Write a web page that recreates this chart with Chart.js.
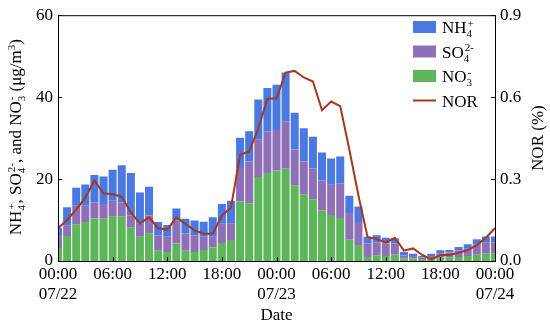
<!DOCTYPE html>
<html>
<head>
<meta charset="utf-8">
<script src="https://cdn.jsdelivr.net/npm/chart.js@4/dist/chart.umd.min.js"></script>
<style>
  html, body { margin: 0; padding: 0; background: #fff; }
  #wrap { width: 550px; height: 325px; }
</style>
</head>
<body>
<div id="wrap"><canvas id="ionChart"></canvas></div>
<script>
// hourly samples, 07/22 00:00 -> 07/24 00:00
const hours = [
  '00:00','01:00','02:00','03:00','04:00','05:00','06:00','07:00','08:00','09:00','10:00','11:00',
  '12:00','13:00','14:00','15:00','16:00','17:00','18:00','19:00','20:00','21:00','22:00','23:00',
  '00:00','01:00','02:00','03:00','04:00','05:00','06:00','07:00','08:00','09:00','10:00','11:00',
  '12:00','13:00','14:00','15:00','16:00','17:00','18:00','19:00','20:00','21:00','22:00','23:00',
  '00:00'
];
const dates = ['07/22', '07/23', '07/24'];

// concentrations (ug/m3), stacked bottom -> top
const no3 = [3.2,6.1,9.0,9.5,10.4,10.3,10.8,10.8,8.1,5.9,6.8,2.5,2.2,4.3,2.5,2.2,2.7,3.3,4.4,5.1,
  14.5,14.1,20.5,21.5,22.1,22.5,18.5,16.3,15.1,12.3,11.2,10.5,5.2,3.9,1.0,1.4,1.2,1.6,0.6,0.6,
  0.5,0.6,0.8,0.9,1.0,1.2,1.5,1.8,1.8];
const so4 = [2.7,2.6,4.5,4.0,3.9,3.6,3.9,3.5,3.0,3.2,4.3,3.8,3.7,5.6,4.2,4.1,3.2,2.6,4.7,4.0,
  8.2,10.2,9.1,10.1,9.9,11.6,8.7,8.0,7.5,7.4,7.4,8.4,6.5,5.6,3.3,3.2,3.1,2.7,0.8,0.6,
  0.4,0.6,1.1,1.2,1.6,1.8,2.6,2.8,2.8];
const nh4 = [2.2,4.4,4.4,5.2,6.7,6.7,7.6,9.1,10.4,7.6,7.0,3.2,2.9,2.9,3.6,3.6,3.7,4.8,4.8,5.6,
  7.4,7.4,9.8,10.6,11.0,11.9,9.0,8.1,7.7,6.8,6.4,6.6,4.2,3.8,1.6,1.7,1.4,1.2,0.8,0.6,
  0.3,0.6,0.7,0.6,0.8,1.1,1.2,1.4,1.4];
// nitrogen oxidation ratio (right axis)
const nor = [0.120,0.150,0.188,0.232,0.295,0.247,0.245,0.235,0.178,0.138,0.160,0.120,0.115,0.160,0.136,0.112,0.100,0.100,0.166,0.196,
  0.389,0.401,0.485,0.594,0.596,0.690,0.696,0.672,0.657,0.552,0.584,0.567,0.408,0.240,0.088,0.080,0.068,0.085,0.038,0.046,
  0.022,0.006,0.022,0.022,0.030,0.040,0.058,0.085,0.120];

const leftTicks = [0, 20, 40, 60];
const rightTicks = [0, 0.3, 0.6, 0.9];

const FONT = "'Liberation Serif', 'Times New Roman', serif";
const FS = 17;

// text with sub/superscripts: {t} normal, {b} subscript, {p} superscript
function richWidth(ctx, parts, size) {
  let w = 0;
  parts.forEach(p => {
    if (p.t) { ctx.font = size + 'px ' + FONT; w += ctx.measureText(p.t).width; }
    else {
      ctx.font = Math.round(size * 0.62) + 'px ' + FONT;
      w += Math.max(p.b ? ctx.measureText(p.b).width : 0, p.p ? ctx.measureText(p.p).width : 0);
    }
  });
  return w;
}
function drawRich(ctx, parts, x, y, size) {
  parts.forEach(p => {
    if (p.t) {
      ctx.font = size + 'px ' + FONT;
      ctx.fillText(p.t, x, y);
      x += ctx.measureText(p.t).width;
    } else {
      ctx.font = Math.round(size * 0.62) + 'px ' + FONT;
      let w = 0;
      if (p.b) { ctx.fillText(p.b, x, y + size * 0.25); w = ctx.measureText(p.b).width; }
      if (p.p) { ctx.fillText(p.p, x + (p.b ? 1 : 0), y - size * 0.38); w = Math.max(w, ctx.measureText(p.p).width + (p.b ? 1 : 0)); }
      x += w;
    }
  });
}

const yTitle = [{t:'NH'},{b:'4',p:'+'},{t:', SO'},{b:'4',p:'2-'},{t:', and NO'},{b:'3',p:'-'},{t:' (\u03bcg/m'},{p:'3'},{t:')'}];
const legendItems = [
  {parts:[{t:'NH'},{b:'4',p:'+'}], ds: 2},
  {parts:[{t:'SO'},{b:'4',p:'2-'}], ds: 1},
  {parts:[{t:'NO'},{b:'3',p:'-'}], ds: 0},
  {parts:[{t:'NOR'}], ds: 3}
];

const framePlugin = {
  id: 'frame',
  afterDraw(chart) {
    const ctx = chart.ctx;
    const a = chart.chartArea;
    const sx = chart.scales.x, sy = chart.scales.y, sr = chart.scales.y1;
    ctx.save();
    ctx.strokeStyle = '#000';
    ctx.lineWidth = 1;
    ctx.strokeRect(a.left + 0.5, a.top + 0.5, a.right - a.left, a.bottom - a.top);
    // inward tick marks
    ctx.beginPath();
    leftTicks.forEach(v => { const y = Math.round(sy.getPixelForValue(v)) + 0.5; ctx.moveTo(a.left, y); ctx.lineTo(a.left + 4, y); });
    rightTicks.forEach(v => { const y = Math.round(sr.getPixelForValue(v)) + 0.5; ctx.moveTo(a.right, y); ctx.lineTo(a.right - 4, y); });
    hours.forEach((h, i) => {
      if (i % 6 !== 0) return;
      const x = Math.round(sx.getPixelForValue(i)) + 0.5;
      ctx.moveTo(x, a.bottom); ctx.lineTo(x, a.bottom - 4);
    });
    ctx.stroke();

    ctx.fillStyle = '#000';
    ctx.textBaseline = 'alphabetic';
    // x title
    ctx.font = FS + 'px ' + FONT;
    ctx.textAlign = 'center';
    ctx.fillText('Date', (a.left + a.right) / 2, 320);
    // right title
    ctx.save();
    ctx.translate(543, (a.top + a.bottom) / 2);
    ctx.rotate(-Math.PI / 2);
    ctx.fillText('NOR (%)', 0, 0);
    ctx.restore();
    // left title
    ctx.textAlign = 'left';
    ctx.save();
    const tw = richWidth(ctx, yTitle, FS);
    ctx.translate(21, (a.top + a.bottom) / 2);
    ctx.rotate(-Math.PI / 2);
    drawRich(ctx, yTitle, -tw / 2, 0, FS);
    ctx.restore();

    // legend
    legendItems.forEach((it, k) => {
      const ds = chart.data.datasets[it.ds];
      const cy = 27 + k * 24.5;
      if (ds.type === 'line') {
        ctx.strokeStyle = ds.borderColor;
        ctx.lineWidth = 2;
        ctx.beginPath();
        ctx.moveTo(413, cy); ctx.lineTo(436, cy);
        ctx.stroke();
      } else {
        ctx.fillStyle = ds.backgroundColor;
        ctx.fillRect(413, cy - 6, 23, 12);
      }
      ctx.fillStyle = '#000';
      drawRich(ctx, it.parts, 442, cy + 6, FS);
    });
    ctx.restore();
  }
};

const ctx = document.getElementById('ionChart');
new Chart(ctx, {
  data: {
    labels: hours,
    datasets: [
      { type: 'bar', label: 'NO3-', data: no3, backgroundColor: '#5db65a', yAxisID: 'y', stack: 'ions', order: 2 },
      { type: 'bar', label: 'SO42-', data: so4, backgroundColor: '#8f70b7', yAxisID: 'y', stack: 'ions', order: 2 },
      { type: 'bar', label: 'NH4+', data: nh4, backgroundColor: '#4a79e2', yAxisID: 'y', stack: 'ions', order: 2 },
      { type: 'line', label: 'NOR', data: nor, borderColor: '#a3381e', borderWidth: 2, pointRadius: 0,
        tension: 0, yAxisID: 'y1', order: 1 }
    ]
  },
  options: {
    responsive: true,
    maintainAspectRatio: false,
    animation: false,
    layout: { padding: { top: 12, left: 0, right: 0, bottom: 0 } },
    datasets: { bar: { barPercentage: 0.88, categoryPercentage: 1 } },
    plugins: { legend: { display: false }, tooltip: { enabled: false } },
    scales: {
      x: {
        stacked: true,
        offset: false,
        grid: { display: false, drawTicks: false },
        border: { display: false },
        afterFit: s => { s.height = 64; },
        ticks: {
          autoSkip: false, maxRotation: 0, padding: 3,
          color: '#000', font: { family: FONT, size: FS }, lineHeight: 1.15,
          callback: (v, i) => {
            if (i % 6 !== 0) return null;
            if (i % 24 === 0) return [hours[i], dates[i / 24]];
            return hours[i];
          }
        }
      },
      y: {
        stacked: true,
        position: 'left',
        min: 0, max: 60,
        afterFit: s => { s.width = 58; },
        grid: { display: false, drawTicks: false },
        border: { display: false },
        afterBuildTicks: s => { s.ticks = leftTicks.map(v => ({ value: v })); },
        ticks: { padding: 5, color: '#000', font: { family: FONT, size: FS } }
      },
      y1: {
        position: 'right',
        min: 0, max: 0.9,
        afterFit: s => { s.width = 55; },
        grid: { display: false, drawTicks: false },
        border: { display: false },
        afterBuildTicks: s => { s.ticks = rightTicks.map(v => ({ value: v })); },
        ticks: { padding: 5, color: '#000', font: { family: FONT, size: FS }, callback: v => v.toFixed(1) }
      }
    }
  },
  plugins: [framePlugin]
});
</script>
</body>
</html>
